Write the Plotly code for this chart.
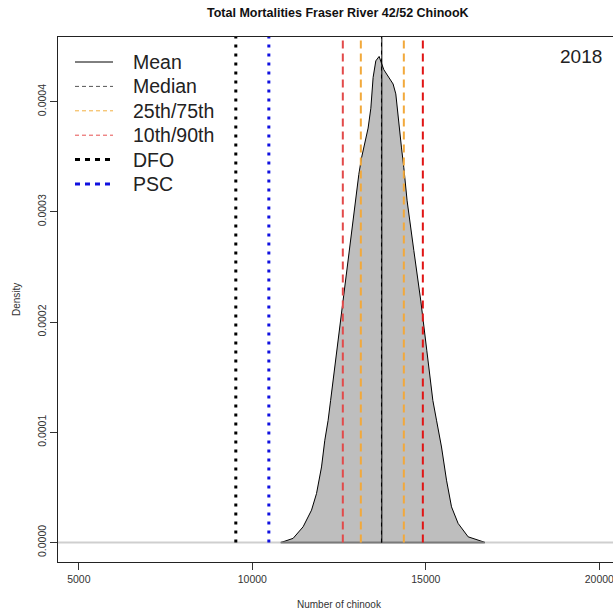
import plotly.graph_objects as go

# ---------------- data ----------------
title_text = "Total Mortalities Fraser River 42/52 ChinooK"
year_label = "2018"
x_label = "Number of chinook"
y_label = "Density"

x_ticks = [5000, 10000, 15000, 20000]
y_ticks = [0.0, 0.0001, 0.0002, 0.0003, 0.0004]
y_tick_text = ["0.0000", "0.0001", "0.0002", "0.0003", "0.0004"]

dens_x = [10821, 10887, 11175, 11464, 11706, 11850, 11994, 12089, 12184, 12256,
          12432, 12608, 12787, 12963, 13003, 13069, 13147, 13242, 13337, 13415,
          13481, 13559, 13654, 13789, 13913, 14057, 14135, 14173, 14230, 14299,
          14366, 14423, 14461, 14654, 14856, 15029, 15202, 15308, 15452, 15596,
          15740, 15930, 16219, 16651, 16700]
dens_y_e4 = [0.000, 0.007, 0.038, 0.143, 0.294, 0.445, 0.686, 0.928, 1.109, 1.29,
             1.74, 2.19, 2.65, 3.10, 3.22, 3.34, 3.49, 3.64, 3.76, 3.94,
             4.22, 4.37, 4.41, 4.29, 4.23, 4.16, 4.07, 3.94, 3.76, 3.58,
             3.40, 3.25, 3.10, 2.65, 2.19, 1.74, 1.29, 1.11, 0.867, 0.566,
             0.324, 0.174, 0.052, 0.007, 0.000]
dens_y = [v * 1e-4 for v in dens_y_e4]

mean_val = 13732
median_val = 13722
q25, q75 = 13127, 14366
q10, q90 = 12608, 14914
dfo_val = 9524
psc_val = 10476

legend_names = ["Mean", "Median", "25th/75th", "10th/90th", "DFO", "PSC"]

# ---------------- scales / layout ----------------
W, H = 613, 611
L, R, T, B = 58, 0, 37, 49
PW, PH = W - L - R, H - T - B
x_lo, x_hi = 4400, 20394
ymax = max(dens_y)
y_lo, y_hi = -0.04 * ymax, 1.04 * ymax

def px(xpix):
    return (xpix - L) / PW

def py(ypix):
    return (H - B - ypix) / PH

FONT = "Liberation Sans, Arial, sans-serif"
fig = go.Figure()

# density fill
fig.add_trace(go.Scatter(x=dens_x, y=dens_y, mode="lines", fill="tozeroy",
                         fillcolor="#bebebe", line=dict(color="black", width=1),
                         showlegend=False, hoverinfo="skip"))
# darker bottom edge of the density polygon
fig.add_trace(go.Scatter(x=[dens_x[0], dens_x[-1]], y=[0, 0], mode="lines",
                         line=dict(color="#7a7a7a", width=2),
                         showlegend=False, hoverinfo="skip"))

def vline(xs, color, width, dash):
    xx, yy = [], []
    for v in xs:
        xx += [v, v, None]
        yy += [0, y_hi * 1.05, None]
    fig.add_trace(go.Scatter(x=xx, y=yy, mode="lines",
                             line=dict(color=color, width=width, dash=dash),
                             showlegend=False, hoverinfo="skip"))

vline([q10], "#e24a4a", 2, "8px,5px")
vline([q90], "#e01515", 2, "8px,5px")
vline([q25, q75], "#f2a93b", 2, "8px,5px")
vline([dfo_val], "black", 3, "3px,6px")
vline([psc_val], "#1010e0", 3, "3px,6px")
vline([median_val], "black", 1, "4px,4px")
vline([mean_val], "black", 1, "solid")

# manual legend (keys + labels)
legend_styles = [
    ("black", 1, "solid"),
    ("#555555", 1, "4px,3px"),
    ("#f2b040", 1, "4px,3px"),
    ("#e65050", 1, "4px,3px"),
    ("black", 3, "5px,5px"),
    ("#1010e0", 3, "5px,5px"),
]
shapes = [dict(type="line", xref="paper", x0=0, x1=1, yref="y", y0=0, y1=0,
               line=dict(color="#cfcfcf", width=2), layer="below")]
annotations = []
row0, row_gap = 62, 24.4
for i, (name, (col, w, d)) in enumerate(zip(legend_names, legend_styles)):
    yy = py(row0 + i * row_gap)
    shapes.append(dict(type="line", xref="paper", yref="paper",
                       x0=px(75), x1=px(113), y0=yy, y1=yy,
                       line=dict(color=col, width=w, dash=d)))
    annotations.append(dict(text=name, xref="paper", yref="paper",
                            x=px(131), y=yy, showarrow=False,
                            xanchor="left", yanchor="middle",
                            font=dict(size=19.5, color="#222222")))

annotations += [
    dict(text="<b>" + title_text + "</b>", xref="paper", yref="paper",
         x=px(338), y=py(13), showarrow=False, xanchor="center",
         yanchor="middle", font=dict(size=12.5, color="#111111")),
    dict(text=year_label, xref="paper", yref="paper",
         x=px(581), y=py(57), showarrow=False,
         xanchor="center", yanchor="middle", font=dict(size=19, color="#222222")),
    dict(text=x_label, xref="paper", yref="paper",
         x=px(339), y=py(604), showarrow=False,
         xanchor="center", yanchor="middle", font=dict(size=10, color="#333333")),
    dict(text=y_label, xref="paper", yref="paper",
         x=px(16), y=py(300), showarrow=False, textangle=-90,
         xanchor="center", yanchor="middle", font=dict(size=10, color="#333333")),
]

fig.update_layout(
    width=W, height=H,
    margin=dict(l=L, r=R, t=T, b=B),
    paper_bgcolor="white", plot_bgcolor="white",
    font=dict(family=FONT, color="#222222", size=11),
    showlegend=False,
    shapes=shapes,
    annotations=annotations,
    xaxis=dict(range=[x_lo, x_hi], tickmode="array", tickvals=x_ticks,
               ticktext=[str(v) for v in x_ticks], ticks="outside", ticklen=7,
               tickcolor="#333333", showline=True, linecolor="#222222", linewidth=1,
               mirror=True, showgrid=False, zeroline=False,
               ticklabeloverflow="allow",
               tickfont=dict(size=10.5, color="#333333")),
    yaxis=dict(range=[y_lo, y_hi], tickmode="array", tickvals=y_ticks,
               ticktext=y_tick_text, ticks="outside", ticklen=7, tickangle=-90,
               tickcolor="#333333", showline=True, linecolor="#222222", linewidth=1,
               mirror=False, showgrid=False, zeroline=False,
               tickfont=dict(size=10.5, color="#333333")),
)

fig.write_html("out.html", config={"displayModeBar": False},
               post_script="document.body.style.margin='0px';document.body.style.overflow='hidden';")
